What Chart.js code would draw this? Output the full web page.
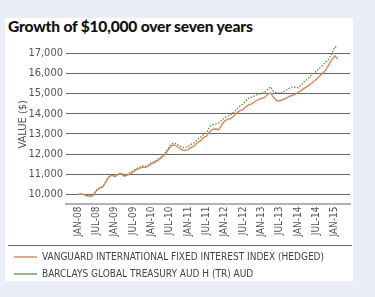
<!DOCTYPE html>
<html>
<head>
<meta charset="utf-8">
<script src="https://cdn.jsdelivr.net/npm/chart.js@4"></script>
<style>
  html, body { margin: 0; padding: 0; background: #eaeef7; }
  #panel { position: absolute; left: 5px; top: 18px; width: 348px; height: 263px; background: #fff; }
  #title { position: absolute; left: 8px; top: 17px; font: 900 15.6px "Lato", sans-serif; color: #111; letter-spacing: -0.2px; }
  #wrap { position: absolute; left: 7px; top: 0; width: 368px; height: 297px; }
</style>
</head>
<body>
<div id="panel"></div>
<div id="title">Growth of $10,000 over seven years</div>
<div id="wrap"><canvas id="c"></canvas></div>
<script>
// monthly values, JAN-08 .. FEB-15
const vanguard = [
  10000, 10020, 9980, 9920, 9900, 9960, 10200, 10300, 10360, 10600, 10850, 10950,
  10880, 10980, 11020, 10900, 10950, 11030, 11120, 11230, 11280, 11360, 11330, 11400,
  11520, 11580, 11680, 11780, 11920, 12100, 12330, 12450, 12420, 12300, 12200, 12180,
  12220, 12330, 12400, 12560, 12650, 12820, 12880, 13100, 13220, 13250, 13200, 13450,
  13650, 13720, 13760, 13900, 14050, 14150, 14200, 14350, 14450, 14500, 14600, 14700,
  14750, 14800, 14950, 15030, 14800, 14650, 14630, 14700, 14750, 14850, 14900, 14950,
  15050, 15150, 15250, 15350, 15450, 15580, 15700, 15850, 16000, 16150, 16400, 16650,
  16870, 16700
];
const barclays = [
  10000, 10030, 10000, 9940, 9920, 9990, 10230, 10330, 10400, 10640, 10880, 10980,
  10920, 11020, 11060, 10950, 11000, 11080, 11170, 11280, 11330, 11410, 11390, 11460,
  11580, 11640, 11740, 11840, 11980, 12180, 12420, 12540, 12520, 12420, 12330, 12320,
  12370, 12480, 12560, 12720, 12820, 12960, 13050, 13350, 13450, 13480, 13540, 13680,
  13800, 13880, 13950, 14080, 14250, 14380, 14480, 14650, 14780, 14830, 14900, 14950,
  15000, 15050, 15200, 15330, 15100, 15020, 15030, 15050, 15150, 15250, 15330, 15300,
  15280, 15420, 15580, 15700, 15850, 16000, 16100, 16250, 16400, 16550, 16700, 16950,
  17310, 17260
];
const xTickLabels = ["JAN-08", "JUL-08", "JAN-09", "JUL-09", "JAN-10", "JUL-10", "JAN-11", "JUL-11",
  "JAN-12", "JUL-12", "JAN-13", "JUL-13", "JAN-14", "JUL-14", "JAN-15"];
const yTicks = [10000, 11000, 12000, 13000, 14000, 15000, 16000, 17000];

const narrow = '"Liberation Sans Narrow", "DejaVu Sans Condensed", sans-serif';

const sepLine = {
  id: "sepLine",
  afterDraw(chart) {
    const ctx = chart.ctx;
    const y = Math.round(chart.legend.top) + 0.5;
    ctx.save();
    ctx.strokeStyle = "#666";
    ctx.lineWidth = 1;
    ctx.beginPath();
    ctx.moveTo(1, y);
    ctx.lineTo(345, y);
    ctx.stroke();
    ctx.restore();
  }
};

new Chart(document.getElementById("c"), {
  type: "line",
  data: {
    datasets: [
      {
        label: "VANGUARD INTERNATIONAL FIXED INTEREST INDEX (HEDGED)",
        data: vanguard.map((v, i) => ({ x: i, y: v })),
        borderColor: "#d68a5c",
        backgroundColor: "#d68a5c",
        borderWidth: 1.4,
        pointRadius: 0,
        tension: 0
      },
      {
        label: "BARCLAYS GLOBAL TREASURY AUD H (TR) AUD",
        data: barclays.map((v, i) => ({ x: i, y: v })),
        borderColor: "#5d7f45",
        backgroundColor: "#5d7f45",
        borderWidth: 1.2,
        borderDash: [1.5, 1.5],
        pointRadius: 0,
        tension: 0
      }
    ]
  },
  options: {
    responsive: true,
    maintainAspectRatio: false,
    animation: false,
    layout: { padding: { top: 45, right: 25, bottom: 8, left: 0 } },
    plugins: {
      legend: {
        position: "bottom",
        align: "start",
        labels: {
          usePointStyle: true,
          pointStyle: "line",
          pointStyleWidth: 23,
          padding: 7,
          color: "#444",
          font: { family: narrow, size: 10 }
        }
      },
      tooltip: { enabled: false }
    },
    scales: {
      x: {
        type: "linear",
        min: -4,
        max: 89,
        afterBuildTicks: s => { s.ticks = xTickLabels.map((t, i) => ({ value: i * 6 })); },
        afterFit: s => { s.height = 41.5; },
        grid: { color: "transparent", drawTicks: false },
        border: { color: "#b3b3b3", width: 2 },
        ticks: {
          minRotation: 90,
          maxRotation: 90,
          padding: 3,
          color: "#555",
          font: { family: narrow, size: 10 },
          callback: (v, i) => xTickLabels[i]
        }
      },
      y: {
        min: 9550,
        max: 17400,
        afterBuildTicks: s => { s.ticks = yTicks.map(v => ({ value: v })); },
        afterFit: s => { s.width = 59; },
        grid: { color: "#666", lineWidth: 1, drawTicks: false },
        border: { display: false },
        title: {
          display: true,
          text: "VALUE ($)",
          color: "#555",
          font: { family: narrow, size: 11 },
          padding: { top: 10, bottom: 0 }
        },
        ticks: {
          padding: 3,
          color: "#555",
          font: { family: narrow, size: 11 },
          callback: v => v.toLocaleString("en-US")
        }
      }
    }
  },
  plugins: [sepLine]
});
</script>
</body>
</html>
